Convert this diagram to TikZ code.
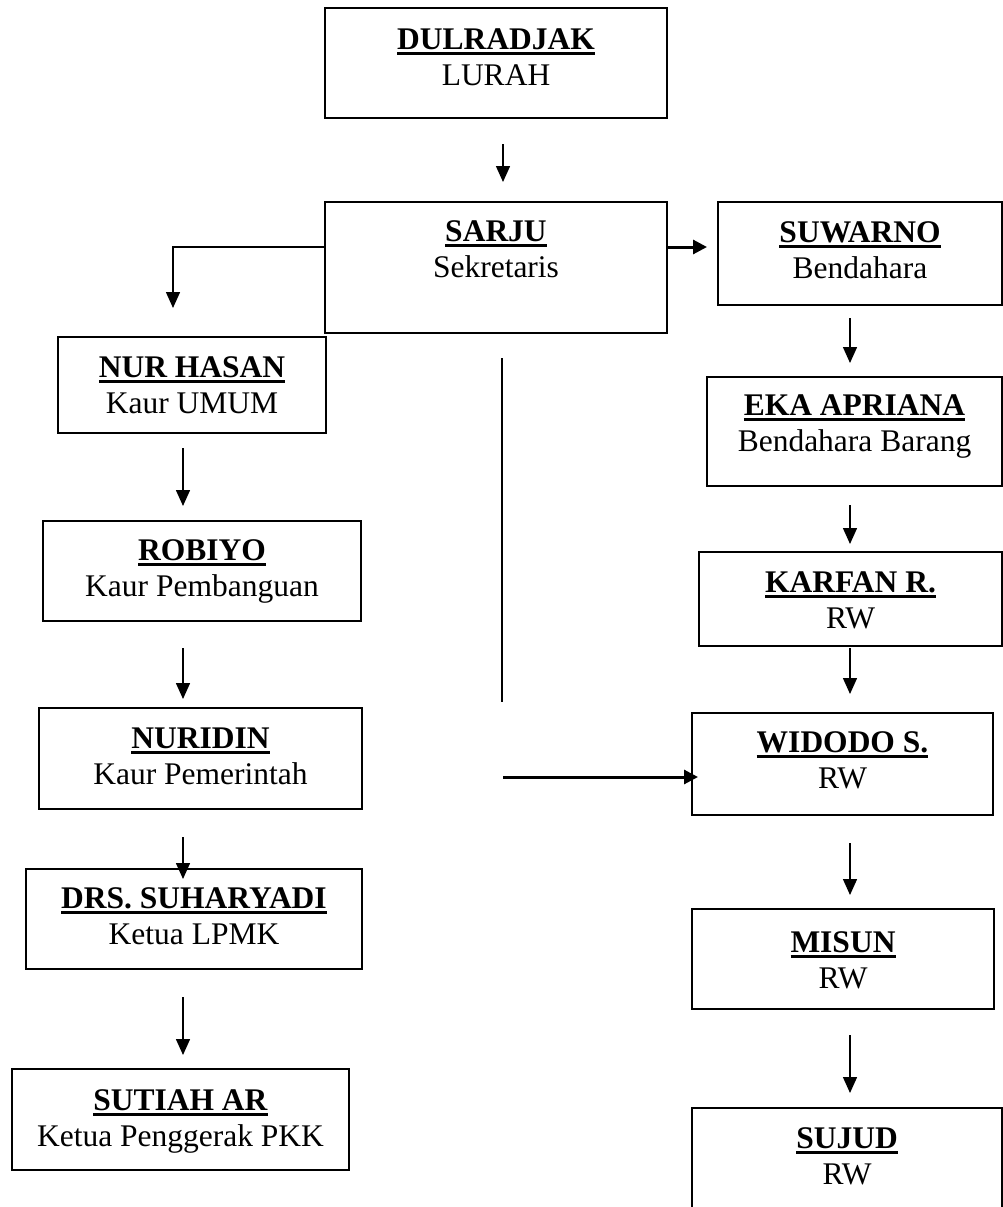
\documentclass[tikz,border=0pt]{standalone}
\usepackage{fontspec}
\setmainfont{Liberation Serif}
\usetikzlibrary{arrows.meta,calc}
\newsavebox\ulbox
\newcommand\myul[1]{\sbox\ulbox{#1}\leavevmode\rlap{\vrule height -3pt depth 6pt width \wd\ulbox}\usebox\ulbox}
\tikzset{
 boxst/.style={draw, line width=2pt, rectangle, inner sep=0pt, outer sep=0pt},
 txt/.style={font=\fontsize{31.5pt}{37pt}\selectfont, inner sep=0pt, anchor=base},
 arr/.style={line width=1.5pt, -{Triangle[length=16pt,width=14pt]}},
 tarr/.style={line width=3pt, -{Triangle[length=14pt,width=14pt]}},
 plainln/.style={line width=1.5pt}
}
% #1 name, #2 x1, #3 y1, #4 x2, #5 y2, #6 title, #7 role, #8 first baseline offset
\newcommand\orgbox[8]{%
 \node[boxst, anchor=north west, minimum width={(#4)-(#2)}, minimum height={(#5)-(#3)}] (#1) at (#2,#3) {};
 \node[txt] (#1ta) at ($(#1.north)+(0,#8)$) {\myul{\textbf{#6}}};
 \node[txt] (#1tb) at ($(#1.north)+(0,#8+36)$) {#7};
}
\begin{document}
\begin{tikzpicture}[x=1pt,y=-1pt]
\useasboundingbox (0,0) rectangle (1003,1207);
\clip (0,0) rectangle (1003,1207);
\fill[white] (0,0) rectangle (1003,1207);

\orgbox{dul}{325}{8}{667}{118}{DULRADJAK}{LURAH}{41}
\orgbox{sar}{325}{202}{667}{333}{SARJU}{Sekretaris}{39}
\orgbox{suw}{718}{202}{1002}{305}{SUWARNO}{Bendahara}{40}
\orgbox{nur}{58}{337}{326}{433}{NUR HASAN}{Kaur UMUM}{40}
\orgbox{eka}{707}{377}{1002}{486}{EKA APRIANA}{Bendahara Barang}{38}
\orgbox{rob}{43}{521}{361}{621}{ROBIYO}{Kaur Pembanguan}{39}
\orgbox{kar}{699}{552}{1002}{646}{KARFAN R.}{RW}{40}
\orgbox{nurd}{39}{708}{362}{809}{NURIDIN}{Kaur Pemerintah}{40}
\orgbox{wid}{692}{713}{993}{815}{WIDODO S.}{RW}{39}
\orgbox{drs}{26}{869}{362}{969}{DRS. SUHARYADI}{Ketua LPMK}{39}
\orgbox{mis}{692}{909}{994}{1009}{MISUN}{RW}{43}
\orgbox{sut}{12}{1069}{349}{1170}{SUTIAH AR}{Ketua Penggerak PKK}{41}
\orgbox{suj}{692}{1108}{1002}{1240}{SUJUD}{RW}{40}

\draw[arr] ($(dul.south)+(7,26)$) -- ($(sar.north)+(7,-20)$);
\draw[arr] ($(sar.north west)+(0,45)$) -| ($(nur.north)+(-19,-29)$);
\draw[tarr] ($(sar.north east)+(0,45)$) -- ($(suw.north west)+(-11,45)$);
\draw[arr] ($(suw.south)+(-10,13)$) -- ($(eka.north)+(-4.5,-14)$);
\draw[arr] ($(nur.south)+(-9,15)$) -- ($(rob.north)+(-19,-15)$);
\draw[arr] ($(eka.south)+(-4.5,19)$) -- ($(kar.north)+(-0.5,-8)$);
\draw[arr] ($(rob.south)+(-19,27)$) -- ($(nurd.north)+(-17.5,-9)$);
\draw[arr] ($(kar.south)+(-0.5,2)$) -- ($(wid.north)+(7.5,-19)$);
\draw[arr] ($(nurd.south)+(-17.5,28)$) -- ($(drs.north)+(-11,10)$);
\draw[arr] ($(wid.south)+(7.5,28)$) -- ($(mis.north)+(7,-14)$);
\draw[arr] ($(drs.south)+(-11,28)$) -- ($(sut.north)+(2.5,-14)$);
\draw[arr] ($(mis.south)+(7,26)$) -- ($(suj.north)+(3,-15)$);

\coordinate (vtop) at (502,358);
\coordinate (vbot) at (502,702);
\draw[plainln] (vtop) -- (vbot);
\coordinate (hst) at (503,777);
\draw[tarr] (hst) -- ($(wid.west)+(6,13)$);
\end{tikzpicture}
\end{document}
